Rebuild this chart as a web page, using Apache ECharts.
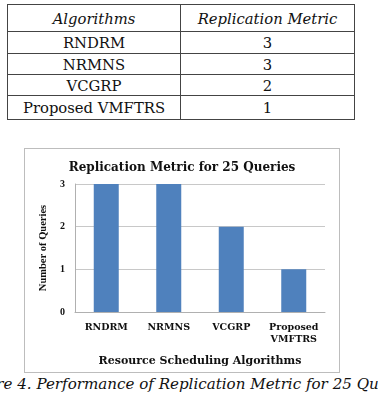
<!DOCTYPE html>
<html>
<head>
<meta charset="utf-8">
<script src="https://cdn.jsdelivr.net/npm/echarts@6/dist/echarts.min.js"></script>
<style>
  html, body { margin: 0; padding: 0; background: #fff; width: 378px; height: 402px; overflow: hidden; position: relative; }
  table { position: absolute; left: 7px; top: 4px; width: 347px; table-layout: fixed; border-collapse: collapse; font-family: 'DejaVu Serif'; font-size: 14.8px; color: #111; }
  td, th { border: 1px solid #444; text-align: center; vertical-align: middle; padding: 0; font-weight: normal; font-family: 'DejaVu Serif'; line-height: 17px; white-space: nowrap; }
  th { font-style: italic; }
  #chart { position: absolute; left: 24px; top: 148px; width: 314px; height: 223px; border: 1px solid #bdbdbd; }
  #cap { position: absolute; left: -150px; width: 678px; top: 375px; text-align: center; white-space: nowrap; font-family: 'DejaVu Serif'; font-style: italic; font-size: 15.1px; color: #111; line-height: 18px; }
</style>
</head>
<body>
<table id="tbl"></table>
<div id="chart"></div>
<div id="cap">Figure 4. Performance of Replication Metric for 25 Queries</div>
<script>
const categories = ["RNDRM", "NRMNS", "VCGRP", "Proposed VMFTRS"];
const axisLabels = ["RNDRM", "NRMNS", "VCGRP", "Proposed\nVMFTRS"];
const values = [3, 3, 2, 1];
const tableHeader = ["Algorithms", "Replication Metric"];
const chartTitle = "Replication Metric for 25 Queries";

const rowHeights = [27, 22, 21, 21, 24];
const tbl = document.getElementById('tbl');
let html = '<colgroup><col style="width:173px"><col style="width:174px"></colgroup>';
html += '<tr style="height:' + rowHeights[0] + 'px"><th>' + tableHeader[0] + '</th><th>' + tableHeader[1] + '</th></tr>';
categories.forEach((c, i) => {
  html += '<tr style="height:' + rowHeights[i + 1] + 'px"><td>' + c + '</td><td>' + values[i] + '</td></tr>';
});
tbl.innerHTML = html;

const chart = echarts.init(document.getElementById('chart'));
const serifWide = 'DejaVu Serif';
const serifSmall = 'Liberation Serif';
chart.setOption({
  animation: false,
  title: {
    text: chartTitle,
    left: 'center', top: 8,
    textStyle: { fontFamily: serifWide, fontWeight: 'bold', fontSize: 12, color: '#111' }
  },
  grid: { left: 50, right: 14, top: 35, bottom: 59 },
  xAxis: {
    type: 'category',
    data: axisLabels,
    name: 'Resource Scheduling Algorithms',
    nameLocation: 'middle',
    nameGap: 44,
    nameTextStyle: { fontFamily: serifWide, fontWeight: 'bold', fontSize: 11, color: '#111' },
    axisLine: { lineStyle: { color: '#b0b0b0' } },
    axisTick: { show: false },
    axisLabel: { fontFamily: serifWide, fontWeight: 'bold', fontSize: 9.5, color: '#111', margin: 10, lineHeight: 12, interval: 0 }
  },
  yAxis: {
    type: 'value',
    min: 0, max: 3, interval: 1,
    name: 'Number of Queries',
    nameLocation: 'middle',
    nameGap: 22,
    nameTextStyle: { fontFamily: serifSmall, fontWeight: 'bold', fontSize: 10.5, color: '#111' },
    axisLine: { show: true, lineStyle: { color: '#b0b0b0' } },
    axisTick: { show: false },
    axisLabel: { fontFamily: serifSmall, fontWeight: 'bold', fontSize: 10, color: '#111', margin: 10 },
    splitLine: { lineStyle: { color: '#c8c8c8' } }
  },
  series: [{
    type: 'bar',
    data: values,
    barWidth: '40%',
    itemStyle: { color: '#4f81bd' }
  }]
});
</script>
</body>
</html>
